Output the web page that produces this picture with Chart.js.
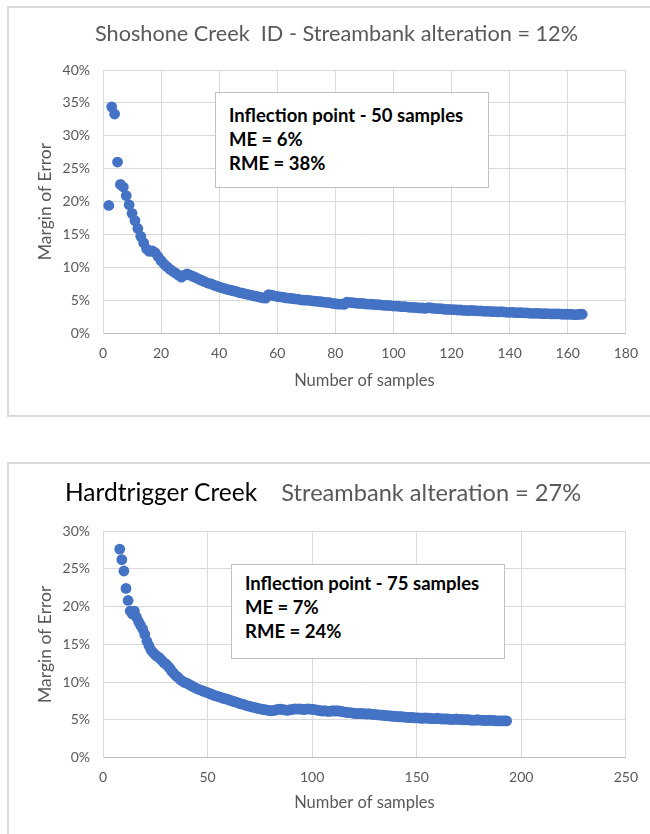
<!DOCTYPE html>
<html>
<head>
<meta charset="utf-8">
<script src="https://cdn.jsdelivr.net/npm/chart.js@4.4.1/dist/chart.umd.min.js"></script>
<style>
  body { margin: 0; background: #fff; width: 650px; height: 834px; position: relative; overflow: hidden; font-family: Lato, 'Open Sans', sans-serif; }
  .frame { position: absolute; border: 2px solid #d9d9d9; }
  canvas { position: absolute; left: 0; }
  .title { position: absolute; white-space: nowrap; color: #595959; font-size: 21.7px; }
  .note { position: absolute; background: #fff; border: 1px solid #bfbfbf; box-sizing: border-box;
          font-weight: bold; color: #000; font-size: 18.5px; line-height: 24px; padding: 10px 0 0 13px; }
</style>
</head>
<body>
<div class="frame" style="left:7px;top:6px;width:700px;height:407px"></div>
<div class="frame" style="left:7px;top:462px;width:700px;height:400px"></div>

<canvas id="top" width="650" height="420" style="top:0"></canvas>
<canvas id="bottom" width="650" height="394" style="top:440px"></canvas>

<div class="title" style="left:95px;top:20px">Shoshone Creek&nbsp;&nbsp;ID - Streambank alteration = 12%</div>
<div class="title" style="left:65px;top:477px;font-size:23.6px"><span style="color:#000;font-size:24.5px">Hardtrigger Creek</span>&nbsp;&nbsp;&nbsp;&nbsp;Streambank alteration = 27%</div>

<div class="note" style="left:215px;top:92px;width:274px;height:96px">Inflection point - 50 samples<br>ME = 6%<br>RME = 38%</div>
<div class="note" style="left:231px;top:564px;width:274px;height:95px;padding-top:6px">Inflection point - 75 samples<br>ME = 7%<br>RME = 24%</div>

<script>
// margin of error (%) for each number of samples, starting at the first sample count
const shoshoneFirst = 2
const shoshoneME = [
  19.4, 34.4, 33.3, 26.0, 22.6, 22.2, 20.9, 19.5, 18.2, 17.1,
  15.9, 14.7, 13.7, 12.8, 12.4, 12.5, 12.2, 11.6, 11.0, 10.5,
  10.1, 9.7, 9.4, 9.1, 8.8, 8.5, 8.8, 9.0, 8.8, 8.6,
  8.4, 8.2, 8.0, 7.8, 7.6, 7.5, 7.3, 7.15, 7.0, 6.85,
  6.75, 6.6, 6.5, 6.4, 6.3, 6.15, 6.05, 5.95, 5.85, 5.75,
  5.65, 5.55, 5.45, 5.35, 5.3, 5.85, 5.75, 5.65, 5.55, 5.5,
  5.45, 5.35, 5.3, 5.25, 5.2, 5.15, 5.05, 5.0, 5.0, 4.95,
  4.9, 4.85, 4.8, 4.75, 4.7, 4.65, 4.6, 4.5, 4.45, 4.4,
  4.4, 4.35, 4.7, 4.65, 4.6, 4.55, 4.5, 4.5, 4.45, 4.4,
  4.4, 4.35, 4.3, 4.3, 4.25, 4.2, 4.2, 4.15, 4.1, 4.1,
  4.05, 4.0, 4.0, 3.95, 3.9, 3.9, 3.85, 3.8, 3.8, 3.75,
  3.85, 3.8, 3.75, 3.7, 3.7, 3.65, 3.6, 3.6, 3.55, 3.55,
  3.5, 3.5, 3.45, 3.45, 3.4, 3.45, 3.4, 3.35, 3.35, 3.3,
  3.3, 3.3, 3.25, 3.25, 3.2, 3.25, 3.2, 3.15, 3.15, 3.15,
  3.1, 3.1, 3.1, 3.05, 3.05, 3.0, 3.0, 3.0, 3.0, 2.95,
  2.95, 2.95, 2.9, 2.9, 2.9, 2.9, 2.85, 2.85, 2.85, 2.85,
  2.8, 2.8, 2.85, 2.85
]

const hardtriggerFirst = 8
const hardtriggerME = [
  27.6, 26.2, 24.7, 22.4, 20.8, 19.4, 19.0, 19.4, 18.6, 18.0,
  17.5, 17.0, 16.3, 15.4, 14.8, 14.2, 13.9, 13.6, 13.4, 13.2,
  12.9, 12.6, 12.4, 12.1, 11.8, 11.4, 11.1, 10.8, 10.6, 10.3,
  10.1, 9.95, 9.85, 9.7, 9.55, 9.4, 9.25, 9.1, 9.0, 8.9,
  8.8, 8.7, 8.6, 8.5, 8.35, 8.25, 8.15, 8.1, 8.0, 7.9,
  7.8, 7.75, 7.65, 7.55, 7.45, 7.4, 7.3, 7.2, 7.1, 7.05,
  6.95, 6.85, 6.8, 6.7, 6.65, 6.6, 6.5, 6.45, 6.4, 6.35,
  6.3, 6.25, 6.2, 6.2, 6.25, 6.35, 6.4, 6.4, 6.35, 6.3,
  6.25, 6.3, 6.35, 6.4, 6.45, 6.4, 6.45, 6.4, 6.35, 6.4,
  6.45, 6.4, 6.4, 6.35, 6.3, 6.25, 6.2, 6.15, 6.2, 6.15,
  6.1, 6.15, 6.2, 6.15, 6.2, 6.15, 6.1, 6.05, 6.0, 5.95,
  5.95, 5.9, 5.85, 5.85, 5.8, 5.85, 5.8, 5.8, 5.75, 5.8,
  5.75, 5.7, 5.7, 5.65, 5.65, 5.6, 5.6, 5.55, 5.55, 5.5,
  5.5, 5.45, 5.45, 5.4, 5.4, 5.4, 5.35, 5.35, 5.3, 5.3,
  5.3, 5.25, 5.25, 5.25, 5.2, 5.2, 5.25, 5.2, 5.2, 5.15,
  5.15, 5.15, 5.2, 5.15, 5.1, 5.1, 5.1, 5.1, 5.05, 5.05,
  5.05, 5.1, 5.05, 5.05, 5.0, 5.0, 5.0, 5.0, 4.95, 4.95,
  4.95, 5.0, 4.95, 4.95, 4.9, 4.9, 4.9, 4.95, 4.9, 4.9,
  4.85, 4.85, 4.85, 4.85, 4.85, 4.85
]

// axis ranges: [max, step]
const shoshoneX = [180, 20]
const shoshoneY = [40, 5]
const hardtriggerX = [250, 50]
const hardtriggerY = [30, 5]

const grey = '#595959'
const tickFont = { family: 'Lato', size: 14 }
const xTitleFont = { family: 'Lato', size: 16.5 }
const yTitleFont = { family: 'Lato', size: 17.5 }

function makeChart(id, first, values, xRange, yRange, pad, xHeight, xTitlePad) {
  const points = values.map((v, i) => ({ x: first + i, y: v }))
  return new Chart(document.getElementById(id).getContext('2d'), {
    type: 'scatter',
    data: {
      datasets: [{
        data: points,
        backgroundColor: '#4472C4',
        borderWidth: 0,
        pointRadius: 5.4,
        pointHoverRadius: 5.4
      }]
    },
    options: {
      responsive: false,
      animation: false,
      layout: { padding: pad },
      plugins: { legend: { display: false }, tooltip: { enabled: false } },
      scales: {
        x: {
          type: 'linear',
          min: 0,
          max: xRange[0],
          afterFit: (scale) => { scale.height = xHeight },
          ticks: { stepSize: xRange[1], color: grey, font: tickFont, padding: 12, maxRotation: 0 },
          grid: { color: '#d9d9d9', drawTicks: false },
          border: { color: '#bfbfbf', width: 1 },
          title: { display: true, text: 'Number of samples', color: grey, font: xTitleFont, padding: { top: 0, bottom: xTitlePad } }
        },
        y: {
          min: 0,
          max: yRange[0],
          afterFit: (scale) => { scale.width = 103 },
          ticks: { stepSize: yRange[1], color: grey, font: tickFont, padding: 13, callback: (v) => v + '%' },
          grid: { color: '#d9d9d9', drawTicks: false },
          border: { color: '#d9d9d9', width: 1 },
          title: { display: true, text: 'Margin of Error', color: grey, font: yTitleFont, padding: { top: 34.5, bottom: 0 } }
        }
      }
    }
  })
}

makeChart('top', shoshoneFirst, shoshoneME, shoshoneX, shoshoneY,
  { top: 70, right: 19, left: 0, bottom: 0 }, 87, 29.1)
makeChart('bottom', hardtriggerFirst, hardtriggerME, hardtriggerX, hardtriggerY,
  { top: 91, right: 21, left: 0, bottom: 0 }, 76.5, 21.1)
</script>
</body>
</html>
